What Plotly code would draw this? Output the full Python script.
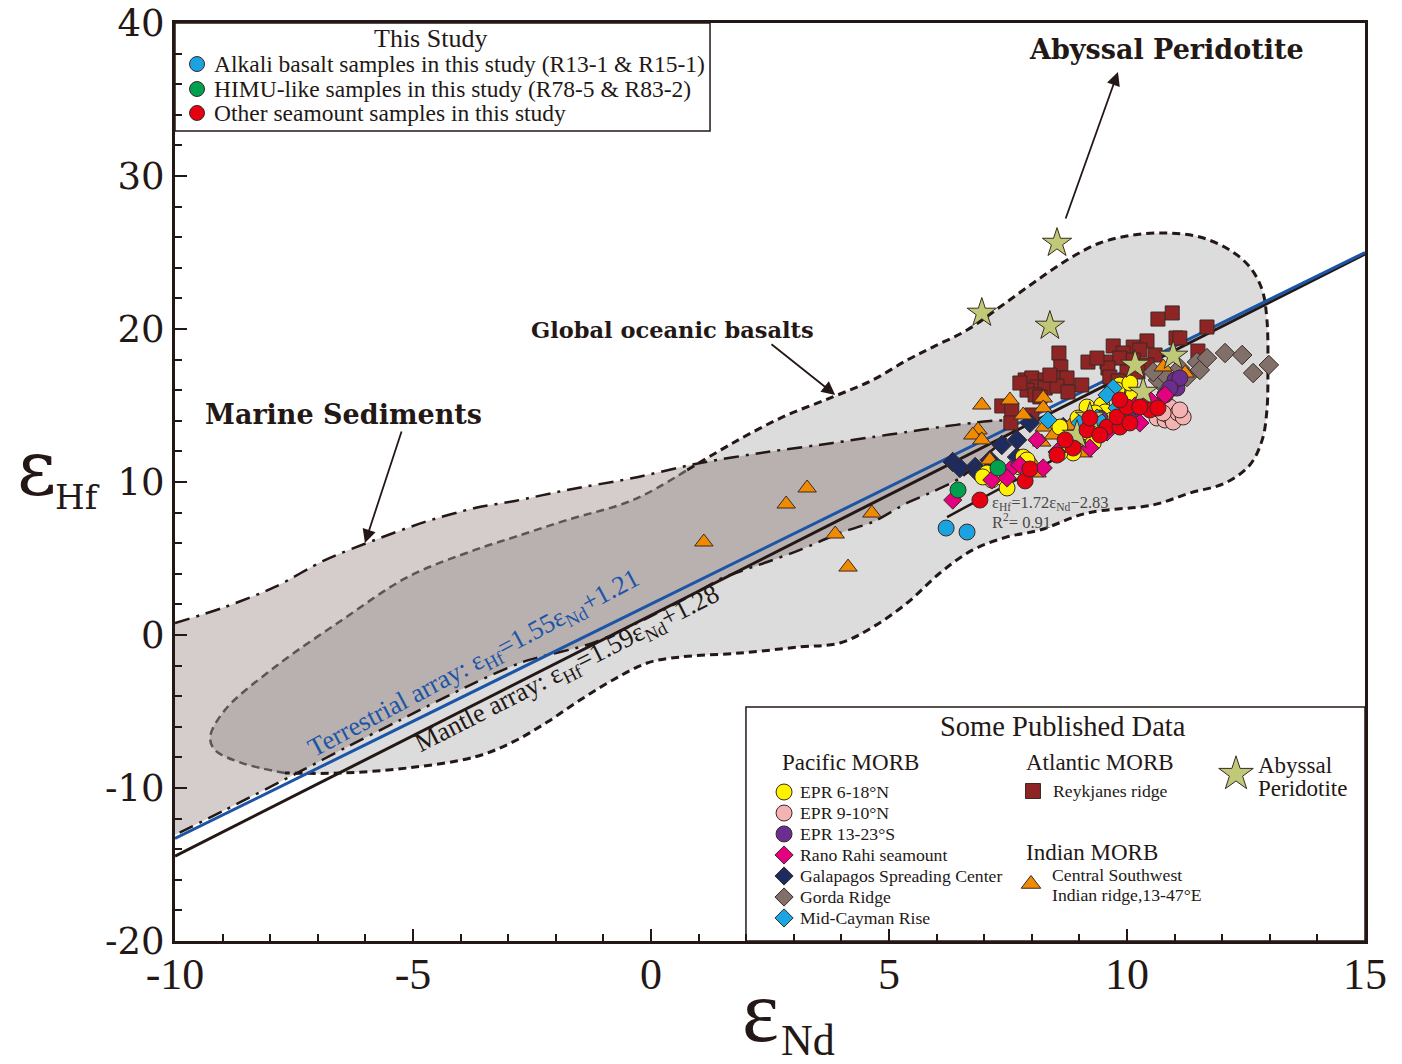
import plotly.graph_objects as go

# ---------------- DATA (eps_Nd, eps_Hf) ----------------
# Global oceanic basalts field outline
glob_x = [-9.26, -8.95, -7.90, -6.49, -5.11, -3.70, -2.86, -1.76, -0.38, 0.76, 1.72, 2.77, 3.82, 4.66, 5.38,
          5.92, 6.64, 7.33, 8.03, 8.74, 9.43, 10.13, 10.84, 11.53, 12.16, 12.58, 12.84, 12.94, 12.96, 12.94,
          12.84, 12.58, 12.06, 11.32, 10.55, 9.16, 8.17, 7.48, 6.76, 6.07, 5.38, 4.66, 3.97, 3.13, 1.87,
          0.61, -0.08, -0.80, -1.49, -2.18, -2.90, -3.70, -5.11, -6.49, -7.69, -8.59, -9.16]
glob_y = [-6.67, -4.90, -2.09, 0.98, 3.79, 5.56, 6.41, 7.52, 8.82, 10.78, 12.55, 14.25, 15.56, 16.67, 17.97,
          18.82, 19.93, 21.44, 23.01, 24.51, 25.62, 26.14, 26.27, 26.01, 25.16, 24.05, 22.55, 20.59, 17.32, 14.71,
          12.75, 11.11, 9.93, 9.28, 8.50, 7.97, 6.86, 6.41, 5.56, 4.05, 2.09, 0.52, -0.52, -0.78, -1.18,
          -1.44, -1.83, -2.94, -4.25, -5.69, -6.99, -7.97, -8.69, -9.02, -9.02, -8.37, -7.52]

# Marine sediments field outline
sed_x = [-10, -8.95, -7.90, -6.85, -5.80, -4.75, -3.70, -2.86, -1.76, -0.38, 1.03, 2.44, 3.82, 4.66, 5.38, 6.07,
         6.76, 7.44, 7.65, 7.12, 6.49, 5.86, 5.38, 4.66, 3.97, 3.13, 2.44, 1.51, 0.82, -0.08, -1.22, -2.69,
         -3.80, -5.27, -6.39, -7.31, -8.95, -10]
sed_y = [0.78, 1.83, 3.14, 4.90, 6.21, 7.39, 8.30, 8.76, 9.48, 10.26, 11.24, 11.96, 12.55, 12.94, 13.27, 13.59,
         13.86, 13.99, 13.53, 11.96, 10.26, 9.28, 8.63, 7.39, 6.67, 5.56, 4.77, 3.73, 2.55, 1.11, -0.52, -1.76,
         -3.27, -5.56, -7.32, -8.82, -11.44, -13.07]

# Reference arrays
terr_x = [-10, 15]
terr_y = [-13.3, 25.0]
mantle_x = [-10, 15]
mantle_y = [-14.45, 24.9]
regr_x = [6.22, 11.18]
regr_y = [7.71, 16.01]

# Published data
reyk_x = [10.95, 10.65, 11.68, 11.03, 10.42, 9.71, 10.13, 10.27, 9.92, 10.59, 11.49, 8.57, 9.18, 9.58, 9.85,
          10.13, 10.42, 8.61, 9.60, 10.00, 10.23, 9.64, 9.81, 7.86, 8.00, 8.28, 8.53, 8.74, 9.05, 8.11, 8.28,
          8.53, 8.76, 7.90, 8.07, 8.17, 7.37, 7.58, 8.00, 7.56, 9.37, 11.11, 7.75, 8.38]
reyk_y = [21.05, 20.65, 20.13, 19.41, 19.22, 18.89, 18.82, 18.63, 18.43, 18.30, 18.56, 18.43, 17.84, 17.84, 18.10,
          17.97, 17.65, 17.52, 17.45, 17.19, 17.19, 16.86, 16.60, 16.67, 16.80, 16.67, 16.80, 16.80, 16.34, 16.21, 16.14,
          16.27, 15.88, 16.01, 15.69, 15.56, 14.97, 14.71, 14.38, 13.86, 18.10, 19.41, 16.47, 16.99]

gorda_x = [10.65, 10.80, 11.11, 11.26, 11.47, 11.53, 11.68, 12.06, 12.42, 12.65, 12.98, 10.55]
gorda_y = [16.67, 16.99, 17.45, 16.86, 17.84, 17.32, 18.10, 18.43, 18.30, 17.12, 17.65, 17.19]

galap_x = [6.34, 6.49, 6.81, 6.87, 7.12, 7.37, 7.69, 7.69, 7.96, 8.66, 7.33]
galap_y = [11.31, 10.92, 10.98, 10.59, 11.44, 12.42, 12.75, 11.63, 13.86, 13.59, 10.65]

swir_x = [1.11, 2.84, 3.28, 3.87, 4.14, 4.64, 6.95, 7.54, 7.82, 8.24, 8.24, 8.26, 8.45, 8.21, 8.80, 6.87, 6.76,
          6.95, 7.12, 7.96, 8.11, 9.01, 9.08, 10.00, 10.76, 11.22]
swir_y = [6.08, 8.56, 9.61, 6.60, 4.44, 7.97, 15.03, 15.36, 14.38, 15.49, 14.84, 13.59, 13.07, 12.61, 13.66, 13.40,
          13.07, 12.75, 11.44, 11.44, 10.59, 12.22, 11.90, 16.01, 17.52, 17.12]

epr618_x = [9.16, 9.47, 9.54, 9.33, 8.97, 8.59, 8.95, 9.16, 9.43, 9.68, 9.85, 10.13, 9.79, 7.06, 7.16, 7.39,
            7.48, 7.82, 7.75, 8.87, 8.59, 9.29, 7.90, 6.97, 10.06]
epr618_y = [14.90, 15.03, 14.58, 14.51, 14.18, 13.59, 12.94, 13.27, 13.59, 14.05, 16.34, 15.69, 16.01, 10.59, 10.13,
            10.26, 9.61, 11.63, 10.98, 11.90, 11.90, 12.55, 11.44, 10.33, 16.47]

epr910_x = [10.63, 10.69, 10.80, 10.86, 10.90, 10.97, 11.07, 11.18, 11.11, 10.76]
epr910_y = [14.18, 14.71, 14.05, 14.38, 14.90, 13.92, 14.51, 14.25, 14.71, 14.51]

epr1323_x = [11.05, 11.01, 11.11, 10.80, 9.85, 9.43, 10.13, 10.90]
epr1323_y = [16.14, 16.67, 16.80, 15.69, 14.71, 14.18, 14.71, 16.14]

rano_x = [10.80, 10.17, 10.27, 9.22, 8.53, 8.24, 7.54, 7.75, 7.16, 6.34, 9.58, 7.48, 8.11, 10.48]
rano_y = [15.69, 14.97, 13.86, 12.22, 11.96, 10.92, 10.78, 11.11, 10.13, 8.82, 13.27, 10.26, 12.75, 15.36]

cayman_x = [9.71, 8.34, 9.01, 9.79, 9.37, 9.58]
cayman_y = [16.14, 14.05, 13.86, 14.84, 14.18, 15.69]

abyss_x = [8.53, 6.95, 8.38, 10.17, 10.97, 10.34, 9.22, 8.95]
abyss_y = [25.62, 21.05, 20.20, 17.65, 18.24, 15.88, 14.25, 13.07]

# This study
alkali_x = [6.20, 6.64]
alkali_y = [6.99, 6.73]
himu_x = [6.45, 7.29]
himu_y = [9.48, 10.92]
other_x = [6.91, 7.86, 7.96, 8.53, 8.87, 9.16, 9.22, 9.58, 9.85, 9.79, 10.06, 10.00, 9.85, 10.48, 10.27, 9.43,
           8.70, 10.65]
other_y = [8.82, 10.07, 10.85, 11.76, 12.22, 13.40, 14.18, 13.59, 13.59, 14.25, 13.86, 14.90, 15.36, 14.71, 14.90,
           13.07, 12.75, 14.84]

# Labels
study_labels = ["Alkali basalt samples in this study (R13-1 &amp; R15-1)",
                "HIMU-like samples in this study (R78-5 &amp; R83-2)",
                "Other seamount samples in this study"]
pacific_labels = ["EPR 6-18°N", "EPR 9-10°N", "EPR 13-23°S", "Rano Rahi seamount",
                  "Galapagos Spreading Center", "Gorda Ridge", "Mid-Cayman Rise"]
x_ticks = [-10, -5, 0, 5, 10, 15]
y_ticks = [-20, -10, 0, 10, 20, 30, 40]

# ---------------- STYLE ----------------
SERIF = "Liberation Serif, Times New Roman, serif"
DJ = "DejaVu Serif, serif"
INK = "#231815"
EDGE = dict(color="#3a2a25", width=1)

C_REYK = "#8e2424"
C_GORDA = "#807069"
C_GALAP = "#1d2b5e"
C_SWIR = "#f08a00"
C_Y = "#fff200"
C_PINK = "#f4b3b3"
C_PURP = "#6a2d90"
C_MAG = "#e4007f"
C_CAY = "#1aa6e0"
C_STAR = "#c0c977"
C_ALK = "#1aa3e0"
C_HIMU = "#00a051"
C_RED = "#e60012"

fig = go.Figure()

def line_tr(x, y, color, width, dash="solid", shape="linear"):
    return go.Scatter(x=x, y=y, mode="lines", line=dict(color=color, width=width, dash=dash, shape=shape),
                      hoverinfo="skip", showlegend=False)

# fills
fig.add_trace(go.Scatter(x=glob_x + [glob_x[0]], y=glob_y + [glob_y[0]], mode="lines", fill="toself",
                         fillcolor="#dcdcdc", line=dict(width=0, shape="spline"),
                         hoverinfo="skip", showlegend=False))
fig.add_trace(go.Scatter(x=sed_x, y=sed_y, mode="lines", fill="toself", fillcolor="rgba(45,5,0,0.2)",
                         line=dict(width=0, shape="spline", smoothing=0.8), hoverinfo="skip", showlegend=False))

# global outline: black part and grey part (inside sediment field)
n = len(glob_x)
blk = list(range(9, 55))
gry = list(range(54, n)) + list(range(0, 10))
fig.add_trace(line_tr([glob_x[i] for i in blk], [glob_y[i] for i in blk], INK, 3, "8px,5px", "spline"))
fig.add_trace(line_tr([glob_x[i] for i in gry], [glob_y[i] for i in gry], "#5a5655", 2.5, "8px,5px", "spline"))

# sediment outline
fig.add_trace(go.Scatter(x=sed_x, y=sed_y, mode="lines",
                         line=dict(color=INK, width=2.5, dash="15px,7px,3px,7px", shape="spline", smoothing=0.8),
                         hoverinfo="skip", showlegend=False))

# arrays
fig.add_trace(line_tr(mantle_x, mantle_y, INK, 3))
fig.add_trace(line_tr(terr_x, terr_y, "#1c55a6", 3))
fig.add_trace(line_tr(regr_x, regr_y, INK, 2.5))

def pts(x, y, color, symbol, size):
    return go.Scatter(x=x, y=y, mode="markers",
                      marker=dict(color=color, symbol=symbol, size=size, line=EDGE),
                      hoverinfo="x+y", showlegend=False)

fig.add_trace(pts(reyk_x, reyk_y, C_REYK, "square", 14))
fig.add_trace(pts(gorda_x, gorda_y, C_GORDA, "diamond", 15))
fig.add_trace(pts(galap_x, galap_y, C_GALAP, "diamond", 15))
fig.add_trace(pts(swir_x, swir_y, C_SWIR, "triangle-up", 16))
fig.add_trace(pts(epr618_x, epr618_y, C_Y, "circle", 16))
fig.add_trace(pts(epr910_x, epr910_y, C_PINK, "circle", 16))
fig.add_trace(pts(epr1323_x, epr1323_y, C_PURP, "circle", 16))
fig.add_trace(pts(rano_x, rano_y, C_MAG, "diamond", 14))
fig.add_trace(pts(cayman_x, cayman_y, C_CAY, "diamond", 14))
fig.add_trace(pts(abyss_x, abyss_y, C_STAR, "star", 22))
fig.add_trace(pts(other_x, other_y, C_RED, "circle", 16))
fig.add_trace(pts(himu_x, himu_y, C_HIMU, "circle", 16))
fig.add_trace(pts(alkali_x, alkali_y, C_ALK, "circle", 16))

# ---------------- LEGENDS (drawn in plot-fraction coordinates) ----------------
def lg_mark(x, y, color, symbol, size):
    return go.Scatter(x=[x], y=[y], xaxis="x2", yaxis="y2", mode="markers", cliponaxis=False,
                      marker=dict(color=color, symbol=symbol, size=size, line=EDGE),
                      hoverinfo="skip", showlegend=False)

shapes = [
    dict(type="rect", xref="paper", yref="paper", x0=0, x1=0.4496, y0=0.8824, y1=1.0,
         line=dict(color=INK, width=1.5), fillcolor="white", layer="below"),
    dict(type="rect", xref="paper", yref="paper", x0=0.4798, x1=1.0, y0=0.0, y1=0.2549,
         line=dict(color=INK, width=1.5), fillcolor="white", layer="below"),
]

ann = []
def txt(x, y, s, size, xanchor="left", family=SERIF, color=INK, xref="paper", yref="paper", **kw):
    ann.append(dict(x=x, y=y, xref=xref, yref=yref, text=s, showarrow=False, xanchor=xanchor,
                    yanchor="middle", font=dict(family=family, size=size, color=color), **kw))

# This study legend
txt(0.2143, 0.9830, "This Study", 26, "center")
study_cols = [C_ALK, C_HIMU, C_RED]
study_y = [0.9553, 0.9281, 0.9020]
for lab, col, yy in zip(study_labels, study_cols, study_y):
    fig.add_trace(lg_mark(0.0185, yy, col, "circle", 15))
    txt(0.0311, yy, lab, 23.5)

# Published legend
txt(0.7462, 0.2342, "Some Published Data", 28.5, "center")
txt(0.5084, 0.1939, "Pacific MORB", 23)
pac_cols = [C_Y, C_PINK, C_PURP, C_MAG, C_GALAP, C_GORDA, C_CAY]
pac_sym = ["circle", "circle", "circle", "diamond", "diamond", "diamond", "diamond"]
pac_size = [16, 16, 16, 14, 14, 14, 14]
pac_y = [0.1623, 0.1394, 0.1166, 0.0937, 0.0708, 0.0479, 0.0251]
for lab, col, sy, sz, yy in zip(pacific_labels, pac_cols, pac_sym, pac_size, pac_y):
    fig.add_trace(lg_mark(0.5118, yy, col, sy, sz))
    txt(0.5235, yy, lab, 17.7)
txt(0.7134, 0.1939, "Atlantic MORB", 23)
fig.add_trace(lg_mark(0.7210, 0.1634, C_REYK, "square", 15))
txt(0.7361, 0.1634, "Reykjanes ridge", 17.7)
txt(0.7134, 0.0959, "Indian MORB", 23)
fig.add_trace(lg_mark(0.7193, 0.0621, C_SWIR, "triangle-up", 17))
txt(0.7353, 0.0719, "Central Southwest", 17.7)
txt(0.7353, 0.0501, "Indian ridge,13-47°E", 17.7)
fig.add_trace(lg_mark(0.8916, 0.1819, C_STAR, "star", 26))
txt(0.9084, 0.1917, "Abyssal", 23)
txt(0.9084, 0.1656, "Peridotite", 23)

# Field titles and arrows (data coords)
txt(-6.45, 14.44, "<b>Marine Sediments</b>", 27, "center", DJ, xref="x", yref="y")
txt(0.46, 19.93, "<b>Global oceanic basalts</b>", 22.5, "center", DJ, xref="x", yref="y")
txt(10.84, 38.30, "<b>Abyssal Peridotite</b>", 27, "center", DJ, xref="x", yref="y")
for (tx, ty, hx, hy) in [(-5.23, 13.40, -6.01, 6.01), (2.50, 19.08, 3.87, 15.69), (8.70, 27.12, 9.81, 36.80)]:
    ann.append(dict(x=hx, y=hy, ax=tx, ay=ty, xref="x", yref="y", axref="x", ayref="y", text="",
                    showarrow=True, arrowhead=2, arrowsize=1.5, arrowwidth=1.8, arrowcolor=INK))

# Array equations
txt(-3.70, -1.90, "Terrestrial array: ε<sub>Hf</sub>=1.55ε<sub>Nd</sub>+1.21", 26.5, "center",
    color="#1c55a6", xref="x", yref="y", textangle=-28)
txt(-1.76, -2.29, "Mantle array: ε<sub>Hf</sub>=1.59ε<sub>Nd</sub>+1.28", 26.5, "center",
    xref="x", yref="y", textangle=-27)
txt(7.12, 8.63, "ε<sub>Hf</sub>=1.72ε<sub>Nd</sub>−2.83", 16.5, "left", color="#4a4646", xref="x", yref="y")
txt(7.12, 7.39, "R<sup>2</sup>= 0.91", 16.5, "left", color="#4a4646", xref="x", yref="y")

# Axis titles
txt(-0.1168, 0.5150, "ε", 76, "center", DJ)
txt(-0.0823, 0.4837, "Hf", 34, "center", DJ)
txt(0.4916, -0.0763, "ε", 88, "center")
txt(0.5319, -0.1089, "Nd", 44, "center")

fig.update_layout(
    width=1402, height=1064, autosize=False,
    margin=dict(l=175, r=37, t=23, b=123),
    paper_bgcolor="white", plot_bgcolor="white", showlegend=False,
    shapes=shapes, annotations=ann,
    xaxis=dict(range=[-10, 15], tickvals=x_ticks, ticktext=[str(v) for v in x_ticks],
               showline=True, linewidth=3, linecolor=INK, mirror=True, automargin=False,
               ticks="inside", ticklen=12, tickwidth=2, tickcolor=INK,
               showgrid=False, zeroline=False, ticklabelstandoff=-8,
               tickfont=dict(family=SERIF, size=44, color=INK),
               minor=dict(ticks="inside", ticklen=7, tickwidth=2, tickcolor=INK, dtick=1, tick0=0, showgrid=False)),
    yaxis=dict(range=[-20, 40], tickvals=y_ticks, ticktext=[str(v) for v in y_ticks],
               showline=True, linewidth=3, linecolor=INK, mirror=True, automargin=False,
               ticks="inside", ticklen=12, tickwidth=2, tickcolor=INK,
               showgrid=False, zeroline=False,
               tickfont=dict(family=DJ, size=37, color=INK),
               minor=dict(ticks="inside", ticklen=7, tickwidth=2, tickcolor=INK, dtick=2, tick0=0, showgrid=False)),
    xaxis2=dict(overlaying="x", range=[0, 1], visible=False, fixedrange=True),
    yaxis2=dict(overlaying="y", range=[0, 1], visible=False, fixedrange=True),
)

fig.write_html("out.html")
